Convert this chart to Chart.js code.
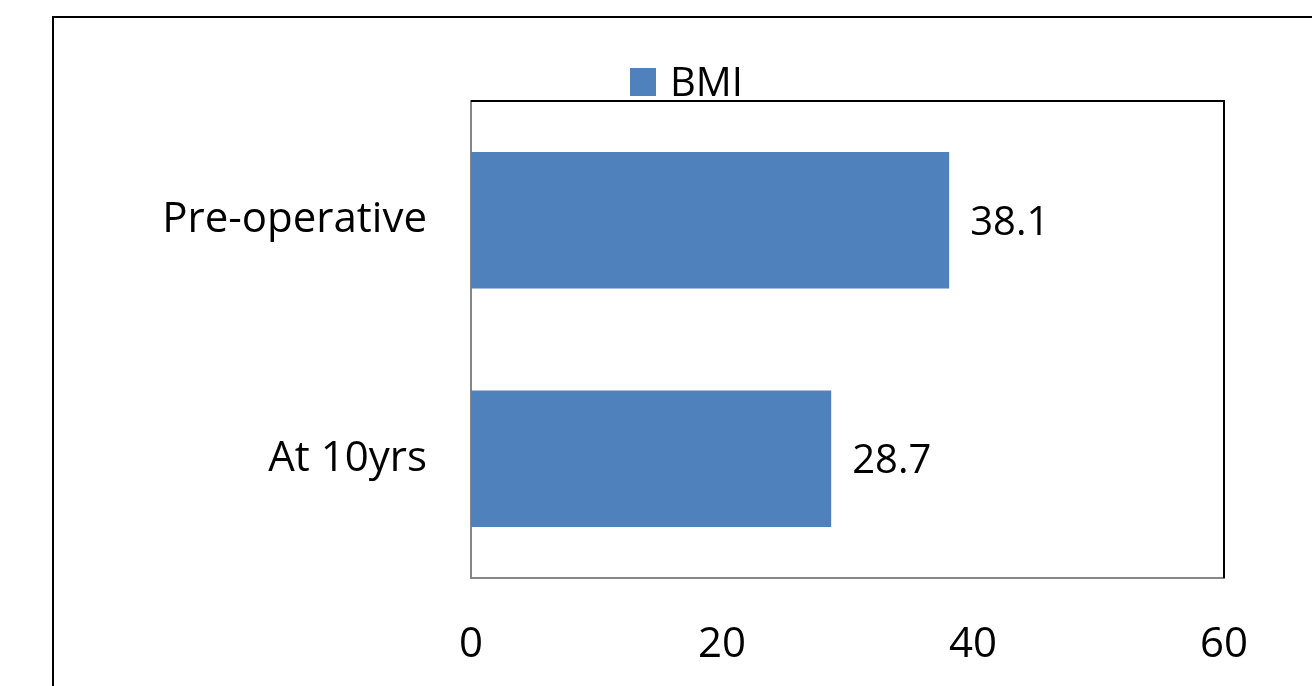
<!DOCTYPE html>
<html>
<head>
<meta charset="utf-8">
<script src="https://cdn.jsdelivr.net/npm/chart.js@4.4.1/dist/chart.umd.min.js"></script>
<style>
  html, body { margin: 0; padding: 0; background: #ffffff; }
  #wrap { position: relative; width: 1312px; height: 686px; }
  canvas { display: block; }
</style>
</head>
<body>
<div id="wrap"><canvas id="c" width="1312" height="686"></canvas></div>
<script>
// Categories and BMI values
const categories = ['Pre-operative', 'At 10yrs'];
const seriesName = 'BMI';
const bmiValues = [38.1, 28.7];
const xTicks = [0, 20, 40, 60];

const BAR_COLOR = '#4F81BD';
const FONT = '"Open Sans", "DejaVu Sans", sans-serif';

// Outer frame, top/right plot border, legend and value labels
const decorations = {
  id: 'decorations',
  beforeDraw(chart) {
    const ctx = chart.ctx;
    ctx.save();
    ctx.fillStyle = '#ffffff';
    ctx.fillRect(0, 0, chart.width, chart.height);
    ctx.strokeStyle = '#000000';
    ctx.lineWidth = 2;
    ctx.beginPath();
    ctx.moveTo(53, chart.height);
    ctx.lineTo(53, 17);
    ctx.lineTo(chart.width, 17);
    ctx.stroke();
    ctx.restore();
  },
  afterDraw(chart) {
    const ctx = chart.ctx;
    const area = chart.chartArea;
    ctx.save();
    // top and right border of the plot area
    ctx.strokeStyle = '#000000';
    ctx.lineWidth = 2;
    ctx.beginPath();
    ctx.moveTo(area.left, area.top);
    ctx.lineTo(area.right, area.top);
    ctx.lineTo(area.right, area.bottom);
    ctx.stroke();

    // legend
    const ds = chart.data.datasets[0];
    ctx.fillStyle = ds.backgroundColor;
    ctx.fillRect(630, 68, 26, 28);
    ctx.fillStyle = '#000000';
    ctx.font = '40px ' + FONT;
    ctx.textAlign = 'left';
    ctx.textBaseline = 'alphabetic';
    ctx.fillText(ds.label, 670, 96);

    // value labels at bar ends
    const meta = chart.getDatasetMeta(0);
    ctx.font = '40px ' + FONT;
    ctx.textBaseline = 'middle';
    meta.data.forEach((bar, i) => {
      ctx.fillText(String(ds.data[i]), bar.x + 21, bar.y + 3);
    });
    ctx.restore();
  }
};

new Chart(document.getElementById('c'), {
  type: 'bar',
  data: {
    labels: categories,
    datasets: [{
      label: seriesName,
      data: bmiValues,
      backgroundColor: BAR_COLOR,
      borderWidth: 0,
      categoryPercentage: 1,
      barPercentage: 0.572
    }]
  },
  options: {
    indexAxis: 'y',
    responsive: false,
    animation: false,
    layout: { padding: { left: 60, right: 88, top: 101, bottom: 0 } },
    plugins: {
      legend: { display: false },
      tooltip: { enabled: false }
    },
    scales: {
      x: {
        min: 0,
        max: 60,
        afterBuildTicks(axis) { axis.ticks = xTicks.map(v => ({ value: v })); },
        afterFit(axis) { axis.height = 108; },
        grid: { display: false, drawTicks: false },
        border: { display: true, color: '#868686', width: 2 },
        ticks: {
          color: '#000000',
          padding: 42,
          font: { family: FONT, size: 42 }
        }
      },
      y: {
        afterFit(axis) { axis.width = 411; },
        grid: { display: false, drawTicks: false },
        border: { display: true, color: '#868686', width: 2 },
        ticks: {
          color: '#000000',
          padding: 44,
          font: { family: FONT, size: 42 }
        }
      }
    }
  },
  plugins: [decorations]
});
</script>
</body>
</html>
